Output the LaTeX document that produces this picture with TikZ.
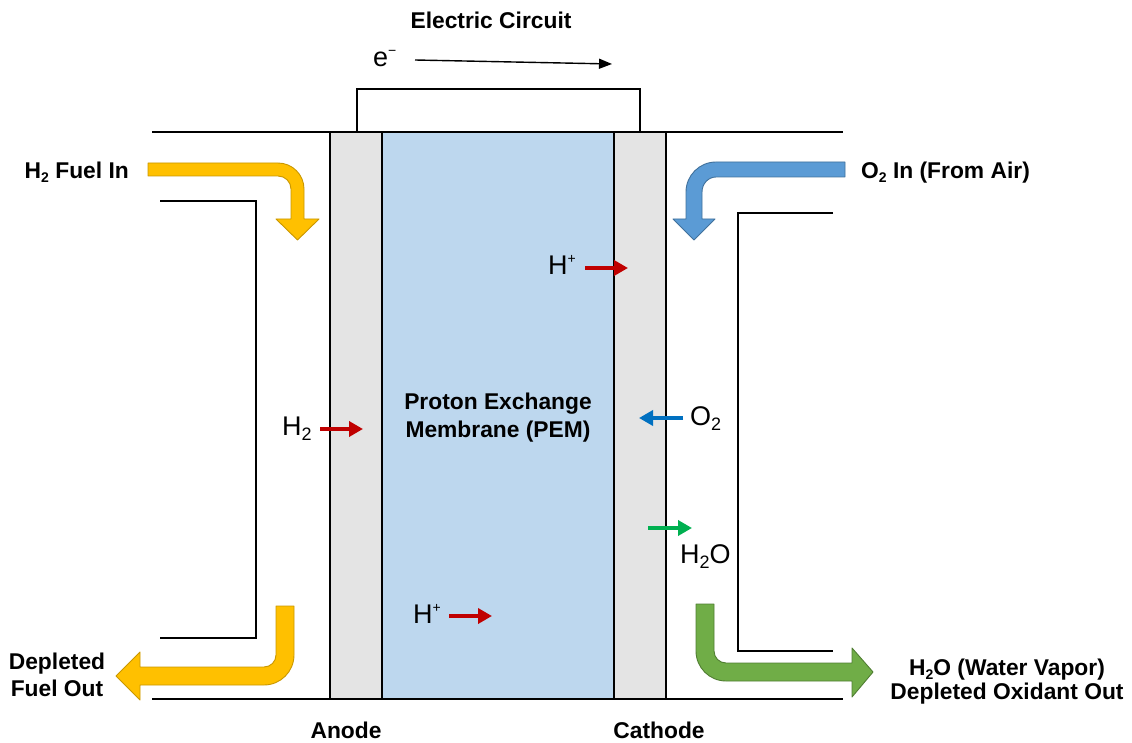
\documentclass[tikz,border=0pt]{standalone}
\usepackage{fontspec}
\setmainfont{Liberation Sans}
\usetikzlibrary{arrows.meta}
\definecolor{ayel}{HTML}{FFC000}
\definecolor{ayelb}{HTML}{C99700}
\definecolor{ablu}{HTML}{5B9BD5}
\definecolor{ablub}{HTML}{41719C}
\definecolor{agrn}{HTML}{70AD47}
\definecolor{agrnb}{HTML}{507E32}
\definecolor{sred}{HTML}{C00000}
\definecolor{sblu}{HTML}{0070C0}
\definecolor{sgrn}{HTML}{00B050}
\definecolor{layer}{HTML}{E4E4E4}
\definecolor{pem}{HTML}{BDD7EE}
\newcommand\subB[1]{\raisebox{-4pt}{\fontsize{14}{14}\selectfont #1}}
\newcommand\subR[1]{\raisebox{-5pt}{\fontsize{18}{18}\selectfont #1}}
\newcommand\supR[1]{\raisebox{11pt}{\fontsize{14}{14}\selectfont #1}}
\tikzset{
  wall/.style={draw=black, line width=1.8pt},
  bold/.style={inner sep=0pt, font=\fontsize{22.8}{26}\selectfont\bfseries},
  reg/.style={inner sep=0pt, font=\fontsize{27}{30}\selectfont},
  flow/.style={line width=0.9pt, line join=round},
  small/.style={line width=4.5pt, -{Triangle[length=14pt,width=15pt]}},
}
\begin{document}
\begin{tikzpicture}[x=1pt,y=-1pt]
\useasboundingbox (0,0) rectangle (1132,743);
% layers
\filldraw[fill=layer, wall] (330,132) rectangle (382,699);
\filldraw[fill=pem, wall] (382,132) rectangle (614,699);
\filldraw[fill=layer, wall] (614,132) rectangle (666,699);
\draw[wall] (152,132) -- (843,132);
\draw[wall] (152,699) -- (843,699);
% circuit
\draw[wall] (357,132) -- (357,89) -- (640,89) -- (640,132);
\coordinate (es) at (415,60);
\coordinate (ee) at (612,64);
\draw[line width=1.4pt, -{Triangle[length=13pt,width=10pt]}] (es) -- (ee);
% channels
\draw[wall] (160,201) -- (256,201) -- (256,638) -- (160,638);
\draw[wall] (833,213) -- (738,213) -- (738,651) -- (833,651);
% big arrows
\filldraw[flow, fill=ayel, draw=ayelb] (148,163) -- (278,163) .. controls (292.36,163) and (304,174.64) .. (304,189) -- (304,219) -- (319,219) -- (297.5,240) -- (276,219) -- (291,219) -- (291,189) .. controls (291,181.82) and (285.18,176) .. (278,176) -- (148,176) -- cycle;
\filldraw[flow, fill=ablu, draw=ablub] (845,162) -- (716,162) .. controls (699.43,162) and (686,175.43) .. (686,192) -- (686,219) -- (673,219) -- (694,240) -- (715,219) -- (702,219) -- (702,192) .. controls (702,183.7) and (708.3,177) .. (716,177) -- (845,177) -- cycle;
\filldraw[flow, fill=ayel, draw=ayelb] (294,606) -- (294,655) .. controls (294,671.57) and (280.57,685) .. (264,685) -- (140,685) -- (140,700) -- (116,676) -- (140,652) -- (140,667) -- (264,667) .. controls (270.62,667) and (276,661.62) .. (276,655) -- (276,606) -- cycle;
\filldraw[flow, fill=agrn, draw=agrnb] (696,604) -- (714,604) -- (714,651) .. controls (714,657.62) and (719.38,663) .. (726,663) -- (852,663) -- (852,648) -- (873,672) -- (852,697) -- (852,681) -- (726,681) .. controls (709.43,681) and (696,667.57) .. (696,651) -- cycle;
% small arrows
\coordinate (h1s) at (585,268); \coordinate (h1e) at (628,268);
\coordinate (h2s) at (320,429); \coordinate (h2e) at (363,429);
\coordinate (o2s) at (683,418); \coordinate (o2e) at (639,418);
\coordinate (ws) at (648,528);  \coordinate (we) at (692,528);
\coordinate (h3s) at (449,616); \coordinate (h3e) at (492,616);
\draw[small, sred] (h1s) -- (h1e);
\draw[small, sred] (h2s) -- (h2e);
\draw[small, sblu] (o2s) -- (o2e);
\draw[small, sgrn] (ws) -- (we);
\draw[small, sred] (h3s) -- (h3e);
% labels
\node[bold, anchor=base] (elec) at (491,29) {Electric Circuit};
\node[reg, anchor=base west] (el) at (373,67) {e\supR{−}};
\node[bold, anchor=base east] (h2in) at (129,179) {H\subB{2} Fuel In};
\node[bold, anchor=base west] (o2in) at (861,179) {O\subB{2} In (From Air)};
\node[bold, align=center, font=\fontsize{22.8}{27}\selectfont\bfseries] (fout) at (57,675) {Depleted\\Fuel Out};
\node[bold, align=center, font=\fontsize{22.8}{24}\selectfont\bfseries] (oout) at (1007,682) {H\subB{2}O (Water Vapor)\\Depleted Oxidant Out};
\node[bold, align=center, font=\fontsize{22.8}{28}\selectfont\bfseries] (pemt) at (498,418) {Proton Exchange\\Membrane (PEM)};
\node[bold, anchor=base] (anode) at (346,738) {Anode};
\node[bold, anchor=base] (cathode) at (659,738) {Cathode};
\node[reg, anchor=base west] (hp1) at (548,275) {H\supR{+}};
\node[reg, anchor=base west] (h2) at (282,435) {H\subR{2}};
\node[reg, anchor=base west] (o2) at (690,425) {O\subR{2}};
\node[reg, anchor=base west] (h2o) at (680,563) {H\subR{2}O};
\node[reg, anchor=base west] (hp2) at (413,623) {H\supR{+}};
\end{tikzpicture}
\end{document}
